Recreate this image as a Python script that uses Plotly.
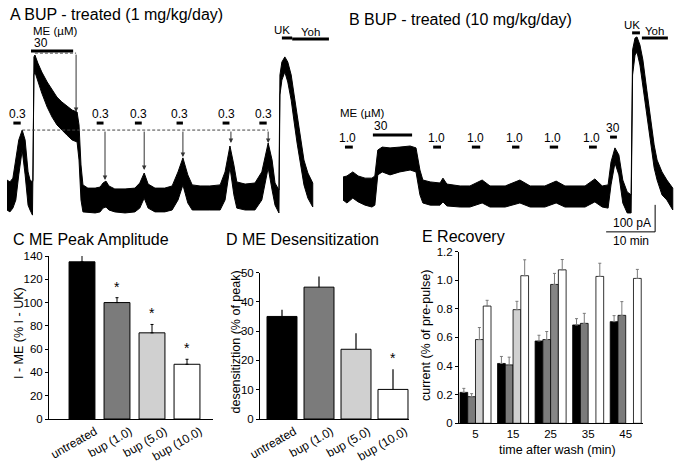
import plotly.graph_objects as go

W, H = 678, 463
FONT = "Liberation Sans, Arial, Helvetica, sans-serif"

# ---------------- Panel A: BUP-treated (1 mg/kg/day) ----------------
# time (min) and upper / lower edge of the noisy current band (pA, relative to baseline)
a_time = [0, 0.6, 1.2, 1.8, 2.4, 3.1, 3.7, 4.3, 4.7, 5.2, 5.3, 5.5, 5.7, 6.3, 7.1, 8.2, 9.2, 10.2, 11.2, 12.2,
          13.3, 14.3, 14.7, 15.1, 15.5, 16.5, 18.0, 19.0, 19.6, 20.2, 20.8, 22.0, 24.1, 26.1, 27.1, 28.0, 28.8,
          30.2, 32.2, 33.7, 34.9, 35.9, 36.9, 37.8, 39.4, 41.4, 43.5, 44.5, 45.5, 46.3, 46.9, 48.6, 50.6, 52.0,
          53.3, 54.1, 54.7, 55.5, 55.7, 56.1, 56.7, 57.3, 58.0, 58.6, 59.2, 59.8, 60.6, 61.4, 62.4]
a_top = [74, 67, 81, 148, 222, 259, 222, 104, 74, 67, 74, 530, 537, 507, 474, 437, 407, 381, 363, 348,
         333, 326, 278, 130, 56, 44, 44, 48, 63, 70, 52, 41, 41, 44, 63, 100, 59, 44, 44, 52,
         104, 156, 93, 56, 52, 52, 56, 104, 200, 130, 67, 59, 63, 104, 211, 148, 63, 37, 463, 511,
         530, 511, 463, 389, 315, 233, 148, 100, 63]
a_bottom = [-37, -44, -30, 0, 93, 185, 93, -19, -37, -56, -56, 463, 474, 437, 396, 344, 307, 278, 259, 241,
            222, 215, 148, 0, -44, -44, -48, -44, -30, -26, -37, -44, -48, -44, -30, 7, -30, -44, -44, -37,
            0, 56, -11, -37, -37, -37, -37, 0, 122, 19, -30, -37, -37, 0, 119, 37, -19, -48, 389, 444,
            474, 437, 370, 289, 211, 141, 56, 7, -26]
# drug applications (min)
a_low_start = [1.3, 18.3, 26.1, 34.6, 44.0, 51.5]
a_low_end = [2.8, 19.7, 27.5, 35.9, 45.4, 53.0]
a_high = [4.9, 13.5]
a_uk = [56.1, 58.2]
a_yoh = [58.2, 65.7]
# measurement of desensitization / recovery
a_ref_amp = 259
a_ref_span = [3.1, 53.3]
a_high_peak = 544
a_high_span = [5.7, 14.1]
a_high_end_amp = 326
a_test_time = [20.0, 28.0, 35.9, 45.7, 53.3]
a_test_amp = [74, 111, 159, 211, 211]

# ---------------- Panel B: BUP-treated (10 mg/kg/day) ----------------
b_time = [0, 0.8, 2.0, 3.1, 4.5, 5.9, 6.5, 7.1, 8.0, 9.6, 11.6, 13.7, 14.9, 15.7, 16.3, 17.8, 19.8, 20.4, 21.2,
          23.9, 25.9, 28.4, 30.0, 33.1, 36.1, 38.2, 41.2, 43.5, 45.3, 49.4, 51.4, 52.9, 54.1, 54.7, 55.5, 56.3,
          57.1, 58.0, 58.8, 59.1, 59.6, 60.0, 60.6, 61.2, 62.0, 62.7, 63.5, 64.1, 65.1, 66.1, 67.3]
b_top = [85, 89, 104, 89, 81, 81, 89, 185, 196, 193, 196, 200, 193, 111, 74, 67, 63, 81, 59, 52,
         52, 74, 52, 52, 74, 52, 52, 70, 52, 52, 78, 52, 56, 141, 193, 167, 74, 30, 19, 556,
         600, 604, 574, 519, 407, 315, 204, 148, 104, 74, 44]
b_bottom = [0, -11, 7, -7, -19, -26, -19, 93, 104, 93, 104, 111, 104, 19, -11, -19, -19, -7, -22, -26,
            -26, -11, -26, -26, -11, -26, -26, -11, -26, -26, -7, -26, -30, 56, 137, 93, -11, -48, -48, 463,
            537, 548, 500, 419, 304, 222, 119, 74, 19, 0, -37]
b_low_start = [0.4, 18.4, 26.3, 34.5, 42.2, 50.2]
b_low_end = [2.0, 20.0, 28.0, 36.0, 43.9, 51.8]
b_high1 = [6.1, 14.1]
b_high2 = [54.5, 55.9]
b_uk = [59.0, 60.6]
b_yoh = [61.0, 66.3]
scale_min = 10
scale_pa = 100

# ---------------- Panels C, D ----------------
groups = ["untreated", "bup (1.0)", "bup (5.0)", "bup (10.0)"]
peak_amp = [135, 100, 74, 47]
peak_err = [6, 4.2, 7.2, 4.3]
peak_sig = [False, True, True, True]
desens = [35, 45, 23.8, 10.1]
desens_err = [2.3, 3.6, 5.5, 6.9]
desens_sig = [False, False, False, True]

# ---------------- Panel E ----------------
wash_time = [5, 15, 25, 35, 45]
rec_untreated = [0.216, 0.418, 0.575, 0.687, 0.710]
rec_untreated_err = [0.028, 0.049, 0.040, 0.044, 0.042]
rec_bup1 = [0.186, 0.408, 0.585, 0.698, 0.754]
rec_bup1_err = [0.021, 0.054, 0.056, 0.070, 0.096]
rec_bup5 = [0.585, 0.794, 0.970, None, None]
rec_bup5_err = [0.084, 0.058, 0.077, 0, 0]
rec_bup10 = [0.819, 1.031, 1.072, 1.026, 1.012]
rec_bup10_err = [0.040, 0.111, 0.072, 0.092, 0.063]

# ---------------- styling ----------------
C_BLACK, C_GRAY, C_LIGHT, C_WHITE = "#000000", "#7b7b7b", "#d0d0d0", "#ffffff"
bar_colors = [C_BLACK, C_GRAY, C_LIGHT, C_WHITE]
PX_PER_MIN = 4.9
PX_PER_PA = 0.27


def pxx(x):
    return x / W


def pxy(y):
    return 1 - y / H


fig = go.Figure()

# ----- traces A and B as filled noise bands -----
for t, top, bot, xa, ya in [(a_time, a_top, a_bottom, "x", "y"), (b_time, b_top, b_bottom, "x2", "y2")]:
    fig.add_trace(go.Scatter(
        x=t + t[::-1], y=top + bot[::-1], fill="toself", fillcolor="black",
        line=dict(color="black", width=1), mode="lines", xaxis=xa, yaxis=ya,
        hoverinfo="skip", showlegend=False))

# ----- bar chart C -----
fig.add_trace(go.Bar(
    x=list(range(len(groups))), y=peak_amp, width=0.74,
    marker=dict(color=bar_colors, line=dict(color="black", width=1)),
    error_y=dict(type="data", array=peak_err, arrayminus=[0] * 4, symmetric=False,
                 color="black", thickness=1, width=1.5),
    xaxis="x3", yaxis="y3", showlegend=False))

# ----- bar chart D -----
fig.add_trace(go.Bar(
    x=list(range(len(groups))), y=desens, width=0.81,
    marker=dict(color=bar_colors, line=dict(color="black", width=1)),
    error_y=dict(type="data", array=desens_err, arrayminus=[0] * 4, symmetric=False,
                 color="black", thickness=1.2, width=0),
    xaxis="x4", yaxis="y4", showlegend=False))

# ----- grouped bar chart E -----
e_series = [
    (rec_untreated, rec_untreated_err, C_BLACK),
    (rec_bup1, rec_bup1_err, C_GRAY),
    (rec_bup5, rec_bup5_err, [C_LIGHT, C_LIGHT, "#868686", C_LIGHT, C_LIGHT]),
    (rec_bup10, rec_bup10_err, C_WHITE),
]
for vals, errs, col in e_series:
    fig.add_trace(go.Bar(
        x=wash_time, y=vals,
        marker=dict(color=col, line=dict(color="black", width=0.8)),
        error_y=dict(type="data", array=errs, arrayminus=[0] * 5, symmetric=False,
                     color="#7a7a7a", thickness=1, width=1.5),
        xaxis="x5", yaxis="y5", showlegend=False))

shapes = []
annotations = []


def hbar(xref, yref, x0, x1, y, w=3):
    shapes.append(dict(type="line", xref=xref, yref=yref, x0=x0, x1=x1, y0=y, y1=y,
                       line=dict(color="black", width=w)))


def label(text, x, y, xref="paper", yref="paper", size=12, xanchor="center", yanchor="middle",
          xshift=0, yshift=0, angle=0):
    annotations.append(dict(text=text, x=x, y=y, xref=xref, yref=yref, showarrow=False,
                            xanchor=xanchor, yanchor=yanchor, xshift=xshift, yshift=yshift,
                            textangle=angle, font=dict(size=size, color="black", family=FONT)))


# ----- panel A decorations -----
A_LOW_Y, A_HIGH_Y, A_UK_Y, A_YOH_Y = 285, 552, 600, 596
for s, e in zip(a_low_start, a_low_end):
    hbar("x", "y", s, e, A_LOW_Y)
    label("0.3", (s + e) / 2, A_LOW_Y, "x", "y", yanchor="bottom", yshift=0)
hbar("x", "y", a_high[0], a_high[1], A_HIGH_Y)
label("30", a_high[0], A_HIGH_Y, "x", "y", xanchor="left", yanchor="bottom", xshift=1, yshift=-1)
label("ME (µM)", pxx(55), pxy(30.5), size=11.5)
hbar("x", "y", a_uk[0], a_uk[1], A_UK_Y)
label("UK", a_uk[0], A_UK_Y, "x", "y", yanchor="bottom", size=11.5)
hbar("x", "y", a_yoh[0], a_yoh[1], A_YOH_Y)
label("Yoh", (a_yoh[0] + a_yoh[1]) / 2, A_YOH_Y, "x", "y", yanchor="bottom", size=11.5, yshift=-1)

dash = dict(color="#444444", width=1, dash="3px,2px")
shapes.append(dict(type="line", xref="x", yref="y", x0=a_ref_span[0], x1=a_ref_span[1],
                   y0=a_ref_amp, y1=a_ref_amp, line=dash))
shapes.append(dict(type="line", xref="x", yref="y", x0=a_high_span[0], x1=a_high_span[1],
                   y0=a_high_peak, y1=a_high_peak, line=dash))


def arrow(x, y_from, y_to):
    annotations.append(dict(x=x, y=y_to, ax=x, ay=y_from, xref="x", yref="y", axref="x", ayref="y",
                            text="", showarrow=True, arrowhead=2, arrowsize=0.9, arrowwidth=1,
                            arrowcolor="#333333", standoff=0))


arrow(a_high_span[1], a_high_peak, a_high_end_amp)
for t, amp in zip(a_test_time, a_test_amp):
    arrow(t, a_ref_amp, amp)

# ----- panel B decorations -----
B_LOW_Y, B_HIGH1_Y, B_HIGH2_Y, B_UK_Y, B_YOH_Y = 196, 241, 233, 619, 600
for s, e in zip(b_low_start, b_low_end):
    hbar("x2", "y2", s, e, B_LOW_Y)
    label("1.0", (s + e) / 2, B_LOW_Y, "x2", "y2", yanchor="bottom", xshift=-1)
label("ME (µM)", pxx(362), pxy(113), size=11.5)
hbar("x2", "y2", b_high1[0], b_high1[1], B_HIGH1_Y)
label("30", b_high1[0], B_HIGH1_Y, "x2", "y2", xanchor="left", yanchor="bottom", xshift=-1)
hbar("x2", "y2", b_high2[0], b_high2[1], B_HIGH2_Y)
label("30", (b_high2[0] + b_high2[1]) / 2, B_HIGH2_Y, "x2", "y2", yanchor="bottom")
hbar("x2", "y2", b_uk[0], b_uk[1], B_UK_Y)
label("UK", b_uk[0], B_UK_Y, "x2", "y2", yanchor="bottom", size=11.5)
hbar("x2", "y2", b_yoh[0], b_yoh[1], B_YOH_Y)
label("Yoh", (b_yoh[0] + b_yoh[1]) / 2, B_YOH_Y, "x2", "y2", yanchor="bottom", size=11.5, yshift=-1)

# scale bar
SB_T1, SB_I0 = 63.7, -118
sb = dict(color="black", width=1)
shapes.append(dict(type="line", xref="x2", yref="y2", x0=SB_T1 - scale_min, x1=SB_T1, y0=SB_I0, y1=SB_I0, line=sb))
shapes.append(dict(type="line", xref="x2", yref="y2", x0=SB_T1, x1=SB_T1, y0=SB_I0, y1=SB_I0 + scale_pa, line=sb))
label(f"{scale_pa} pA", SB_T1, SB_I0, "x2", "y2", xanchor="right", yanchor="bottom", xshift=-2, yshift=0)
label(f"{scale_min} min", SB_T1 - scale_min / 2, SB_I0, "x2", "y2", yanchor="top", yshift=0)

# ----- panel titles -----
label("A BUP - treated (1 mg/kg/day)", pxx(8), pxy(15), size=16, xanchor="left")
label("B BUP - treated (10 mg/kg/day)", pxx(347), pxy(19), size=16, xanchor="left")
label("C ME Peak Amplitude", pxx(11), pxy(239), size=16, xanchor="left")
label("D ME Desensitization", pxx(224), pxy(239), size=16, xanchor="left")
label("E Recovery", pxx(420), pxy(236), size=16, xanchor="left")

# ----- axis titles -----
label("I - ME (% I - UK)", pxx(19), pxy(333), size=12.5, angle=-90)
label("desensitiztion (% of peak)", pxx(235.5), pxy(342), size=12.5, angle=-90)
label("current (% of pre-pulse)", pxx(426), pxy(336), size=12.5, angle=-90)
label("time after wash (min)", pxx(557), pxy(450), size=12.5)

# significance stars
for i, (v, e, s) in enumerate(zip(peak_amp, peak_err, peak_sig)):
    if s:
        label("*", i, v + e, "x3", "y3", size=14, yanchor="bottom", yshift=1)
for i, (v, e, s) in enumerate(zip(desens, desens_err, desens_sig)):
    if s:
        label("*", i, v + e, "x4", "y4", size=14, yanchor="bottom", yshift=1)

hidden = dict(visible=False, fixedrange=True)
trace_y = dict(domain=[pxy(245), 1], range=[(200 - 245) / PX_PER_PA, 200 / PX_PER_PA], **hidden)
tick_font = dict(size=11.5, family=FONT, color="black")
axis_common = dict(showline=True, linecolor="black", linewidth=1, showgrid=False, zeroline=False,
                   automargin=False, tickfont=tick_font, ticks="outside", ticklen=3, tickcolor="black")
cat_font = dict(size=12, family=FONT, color="black")

fig.update_layout(
    template="none",
    width=W, height=H, margin=dict(l=0, r=0, t=0, b=0, pad=0), autosize=False,
    paper_bgcolor="white", plot_bgcolor="rgba(0,0,0,0)",
    barmode="group", bargap=0.174, bargroupgap=0,
    font=dict(family=FONT, color="black"),
    shapes=shapes, annotations=annotations,
    xaxis=dict(domain=[0, pxx(330)], range=[-7 / PX_PER_MIN, 323 / PX_PER_MIN], anchor="y", **hidden),
    yaxis=dict(anchor="x", **trace_y),
    xaxis2=dict(domain=[pxx(330), 1], range=[-13 / PX_PER_MIN, 335 / PX_PER_MIN], anchor="y2", **hidden),
    yaxis2=dict(anchor="x2", **trace_y),
    xaxis3=dict(domain=[pxx(49), pxx(213)], range=[-33 / 35, 131 / 35], anchor="y3",
                tickvals=[i + 0.37 for i in range(4)], ticktext=groups, tickangle=-30,
                **{**axis_common, "ticks": "", "tickfont": cat_font}),
    yaxis3=dict(domain=[pxy(419), pxy(256)], range=[0, 140], anchor="x3", tickvals=list(range(0, 141, 20)),
                **axis_common),
    xaxis4=dict(domain=[pxx(260), pxx(409)], range=[-22 / 37, 127 / 37], anchor="y4",
                tickvals=[i + 0.33 for i in range(4)], ticktext=groups, tickangle=-30,
                **{**axis_common, "ticks": "", "tickfont": cat_font}),
    yaxis4=dict(domain=[pxy(419), pxy(272.5)], range=[0, 50], anchor="x4", tickvals=list(range(0, 51, 10)),
                **axis_common),
    xaxis5=dict(domain=[pxx(459), pxx(643)], range=[0.61, 49.6], anchor="y5",
                tickvals=wash_time, ticktext=[str(v) for v in wash_time], **{**axis_common, "ticks": ""}),
    yaxis5=dict(domain=[pxy(423.3), pxy(251.5)], range=[0, 1.2], anchor="x5",
                tickvals=[0, 0.2, 0.4, 0.6, 0.8, 1.0, 1.2],
                ticktext=["0", "0.2", "0.4", "0.6", "0.8", "1.0", "1.2"], **axis_common),
)

fig.write_html("out.html", config={"displayModeBar": False, "staticPlot": True},
               post_script="document.body.style.margin='0';document.body.style.overflow='hidden';")
